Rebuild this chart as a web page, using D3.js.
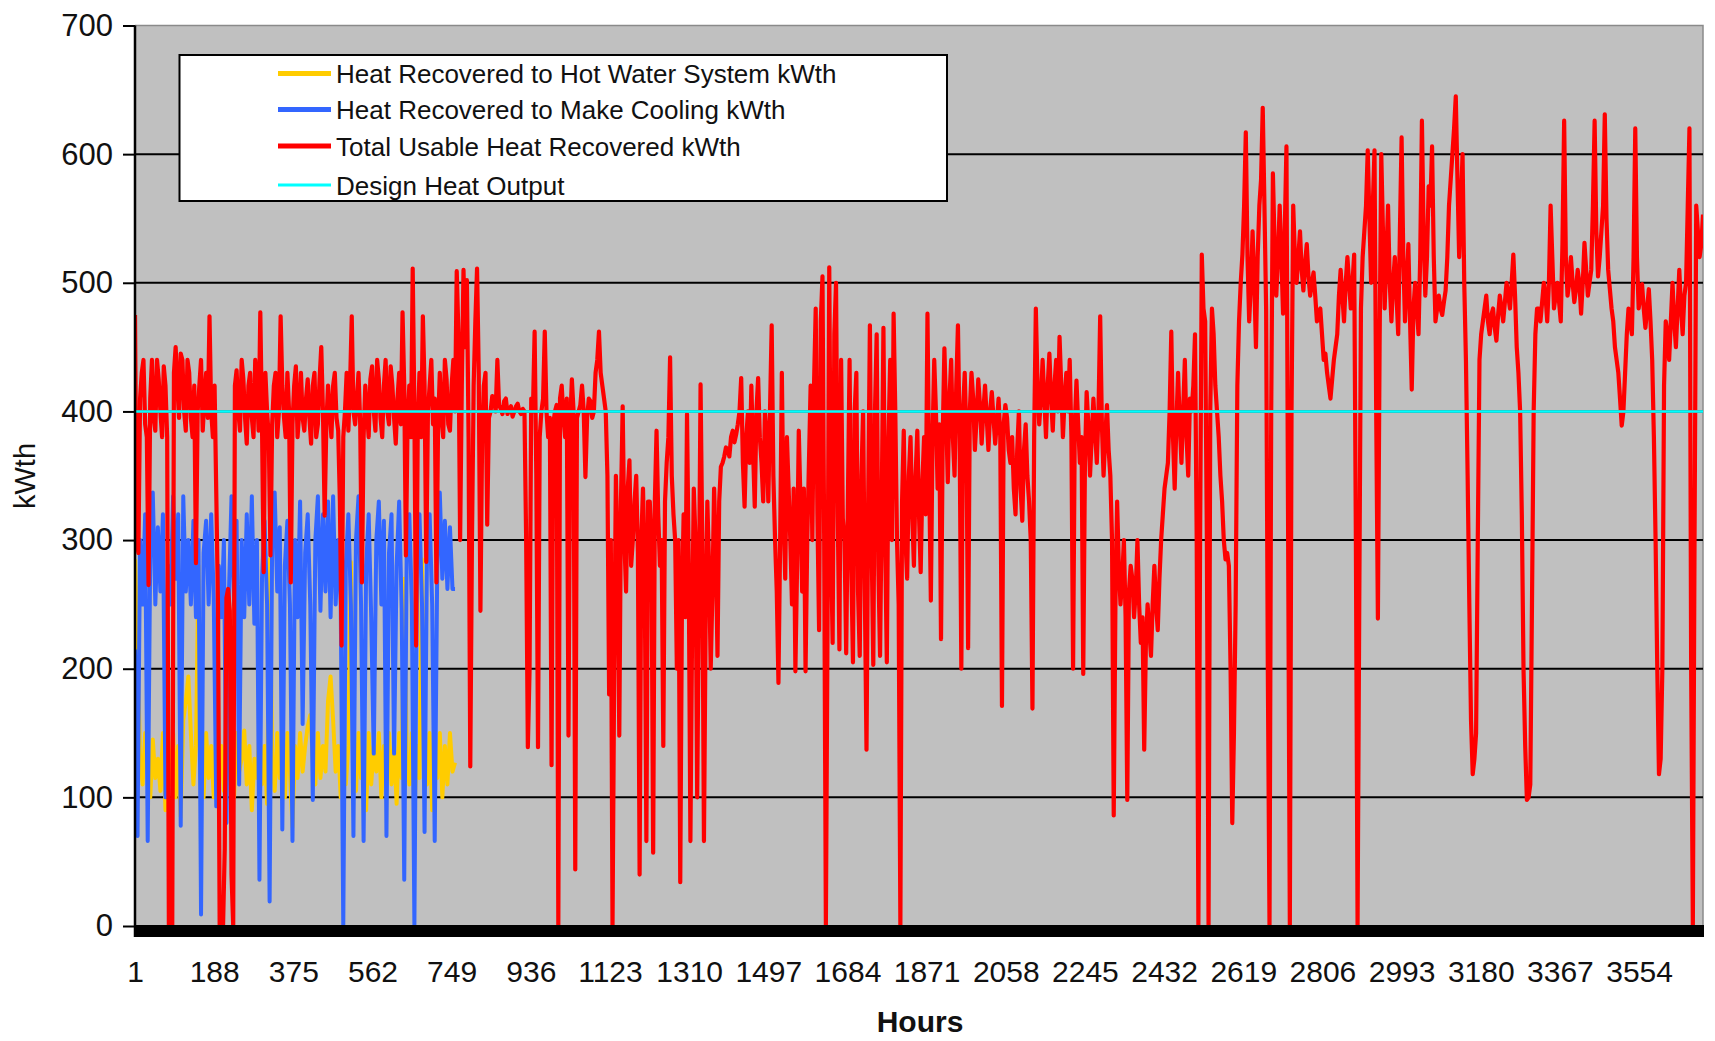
<!DOCTYPE html>
<html><head><meta charset="utf-8">
<script src="https://cdn.jsdelivr.net/npm/d3@7"></script>
<style>
body{margin:0;background:#fff;}
svg{display:block;font-family:"Liberation Sans",Arial,Helvetica,sans-serif;}
</style>
</head><body>
<svg id="chart" width="1715" height="1041"></svg>
<script>
// ---------- DATA ----------
const seriesNames = [
  "Heat Recovered to Hot Water System kWth",
  "Heat Recovered to Make Cooling kWth",
  "Total Usable Heat Recovered kWth",
  "Design Heat Output"
];
const seriesColors = ["#FFCC00", "#3366FF", "#FF0000", "#00FFFF"];

// Total usable heat recovered: readings at hours 1, 9, 17, ... (every 8 h)
const totalStartHour = 1, totalStepHours = 8;
const totalHeat = [
  475,290,430,390,265,440,385,425,380,420,
  0,0,450,395,440,385,430,380,282,420,
  385,430,474,380,336,0,0,255,245,0,
  432,385,425,375,430,380,420,477,275,400,
  288,420,380,474,395,430,267,420,380,430,
  385,425,375,430,390,450,319,420,380,430,
  385,218,400,385,474,390,430,267,420,380,
  435,385,425,380,440,390,420,375,430,477,
  288,420,511,218,430,474,283,420,390,267,
  430,380,425,385,440,509,300,510,502,124,
  420,511,245,420,312,400,410,440,402,408,
  398,404,400,406,398,400,139,410,462,139,
  400,462,380,125,400,0,420,380,148,425,
  44,400,420,349,410,395,430,462,420,400,
  180,0,350,148,404,260,362,300,350,40,
  340,66,330,57,385,280,140,360,442,320,
  200,34,320,398,66,340,100,421,66,330,
  200,340,210,357,365,370,380,376,390,426,
  326,400,420,326,426,360,400,330,467,300,
  189,430,270,340,250,198,385,260,198,360,
  300,480,230,505,0,512,220,500,215,317,
  212,440,205,430,210,400,137,467,203,460,
  210,465,205,440,476,300,0,385,270,380,
  280,385,275,380,476,253,440,340,223,449,
  345,440,350,467,200,430,216,430,370,425,
  375,420,370,415,375,410,171,405,370,380,
  320,400,315,390,330,169,480,390,440,380,
  445,385,440,458,380,430,440,200,424,360,
  196,415,350,410,360,474,350,405,350,86,
  330,250,300,98,280,240,300,220,137,250,
  210,280,230,300,340,360,462,340,430,360,
  440,350,400,460,0,522,470,0,480,420,
  380,330,285,280,80,250,470,522,617,470,
  540,450,560,636,480,0,585,490,560,476,
  606,0,560,500,540,494,530,490,508,470,
  480,440,430,410,440,460,510,470,520,480,
  522,0,480,540,603,500,603,239,600,480,
  560,470,520,460,613,470,530,417,500,460,
  626,490,575,606,470,490,475,494,560,600,
  645,520,600,440,250,118,150,440,470,490,
  460,480,455,490,470,500,480,522,450,400,
  200,98,110,400,480,470,500,470,560,480,
  500,470,626,490,520,485,510,476,531,490,
  510,626,505,540,631,510,480,450,430,389,
  430,480,460,620,480,499,465,495,440,300,
  118,200,470,440,500,450,510,460,500,620,
  0,560,520,553
];
// Total usable heat recovered: readings at hours 5, 13, 21, ... (every 8 h)
const totalMidStartHour = 5;
const totalHeatMid = [
  300,410,440,380,410,395,440,400,435,380,
  0,430,420,445,400,440,395,420,400,440,
  410,395,400,420,250,0,60,262,40,420,
  400,440,395,420,395,440,385,390,430,380,
  390,430,400,420,380,400,390,435,400,395,
  410,395,420,380,425,400,390,400,420,395,
  330,380,430,420,400,410,390,380,400,425,
  400,440,395,420,400,435,395,410,390,420,
  395,380,400,390,380,420,400,440,410,390,
  395,440,390,420,400,460,420,450,380,300,
  470,430,380,430,395,412,400,405,398,410,
  402,396,404,400,402,300,198,400,350,380,
  410,400,395,390,405,410,395,410,390,400,
  395,405,400,395,408,400,440,430,410,350,
  300,200,290,330,300,340,280,330,290,300,
  280,330,300,330,320,300,330,380,350,300,
  300,250,240,280,230,300,250,300,240,280,
  260,290,330,360,372,365,385,382,400,360,
  380,360,370,400,380,330,380,400,350,260,
  300,320,380,300,340,280,330,340,300,420,
  420,320,470,300,240,300,460,320,440,300,
  330,280,400,260,350,260,330,300,400,280,
  330,300,380,300,400,250,330,300,350,320,
  350,320,345,320,350,380,400,390,380,400,
  410,380,420,380,400,380,400,410,395,405,
  400,395,400,395,392,380,390,395,360,340,
  370,340,370,350,300,380,420,410,410,420,
  410,420,400,420,410,400,380,390,390,380,
  360,390,380,385,400,390,380,370,300,250,
  280,270,240,260,270,260,250,240,220,230,
  250,250,270,320,350,400,380,390,390,400,
  380,410,420,300,300,480,300,400,460,400,
  350,300,290,200,150,420,500,560,520,500,
  500,520,580,560,200,400,530,520,520,540,
  300,400,520,520,510,515,505,500,490,475,
  460,445,420,425,450,490,490,500,500,500,
  300,250,520,560,550,560,400,450,540,520,
  500,500,490,540,520,500,470,480,480,520,
  540,520,560,520,480,480,485,520,580,620,
  580,560,500,350,160,130,300,460,480,470,
  475,465,475,480,485,490,500,490,430,320,
  140,100,250,460,480,485,490,500,520,490,
  485,530,520,500,500,495,500,500,510,500,
  560,540,520,560,550,495,470,440,410,400,
  460,470,520,520,490,480,480,470,380,200,
  130,420,460,470,470,480,480,490,560,200,
  300,540,530
];

// Cooling and hot water series: readings at hours 1, 7, 13, ... (every 6 h)
const partStartHour = 1, partStepHours = 6;
const coolingHeat = [
  215,70,300,250,320,66,290,337,250,310,
  260,320,100,280,250,334,270,320,78,334,
  260,300,250,315,240,300,9,290,315,250,
  320,255,93,280,240,300,80,260,334,250,
  315,110,300,240,320,250,334,235,300,36,
  270,315,250,19,300,337,260,310,75,280,
  315,250,66,300,240,330,157,290,320,250,
  98,300,334,245,320,260,330,240,334,250,
  300,250,0,280,320,250,70,300,334,250,
  66,280,320,240,134,300,330,250,315,70,
  290,320,134,280,330,245,36,300,320,250,
  0,290,320,250,73,300,320,250,66,280,
  337,270,315,262,310,262,262
];
const hotWaterHeat = [
  285,218,130,110,150,120,100,145,115,130,
  105,150,90,140,110,150,100,140,85,160,
  175,194,150,110,140,280,130,100,150,115,
  140,100,150,120,140,105,150,115,140,100,
  150,120,130,152,110,140,90,130,115,150,
  110,140,95,285,130,105,150,115,140,100,
  150,120,77,140,115,150,120,140,155,164,
  130,110,150,115,140,120,175,194,160,120,
  140,100,150,110,140,283,130,105,150,115,
  140,90,150,110,140,120,150,100,140,115,
  150,110,140,95,150,115,270,130,110,150,
  90,140,115,285,130,110,150,90,140,115,
  150,100,140,110,150,120,127
];

const designHeatOutput = 400;
const xTickLabels = [1,188,375,562,749,936,1123,1310,1497,1684,1871,2058,2245,2432,2619,2806,2993,3180,3367,3554];
const yTickValues = [0,100,200,300,400,500,600,700];
const xTitle = "Hours";
const yTitle = "kWth";

// ---------- CHART ----------
const svg = d3.select("#chart");
const L = 135, R = 1703, T = 25.5, B = 926;
const lastHour = totalStartHour + totalStepHours * (totalHeat.length - 1);
const x = d3.scaleLinear().domain([1, lastHour]).range([L, R]);
const y = d3.scaleLinear().domain([0, 700]).range([B, T]);

// merge the two total-heat reading sets in hour order
const totalPoints = [];
totalHeat.forEach((v, i) => {
  totalPoints.push([totalStartHour + totalStepHours * i, v]);
  if (i < totalHeatMid.length) totalPoints.push([totalMidStartHour + totalStepHours * i, totalHeatMid[i]]);
});
const partPoints = arr => arr.map((v, i) => [partStartHour + partStepHours * i, v]);

// plot background
svg.append("rect").attr("x", L).attr("y", T).attr("width", R - L).attr("height", B - T)
  .attr("fill", "#C0C0C0");
svg.append("path").attr("d", `M${L},${T}H${R}V${B}`).attr("fill", "none")
  .attr("stroke", "#8a8a8a").attr("stroke-width", 1.5);

// gridlines
svg.append("g").selectAll("line").data(yTickValues.filter(v => v > 0 && v < 700)).join("line")
  .attr("x1", L).attr("x2", R).attr("y1", d => y(d)).attr("y2", d => y(d))
  .attr("stroke", "#000").attr("stroke-width", 2);

const line = d3.line().x(d => x(d[0])).y(d => y(d[1]));

svg.append("clipPath").attr("id", "pc").append("rect")
  .attr("x", L).attr("y", T - 5).attr("width", R - L).attr("height", B - T + 5);
const plot = svg.append("g").attr("clip-path", "url(#pc)");

plot.append("path").datum(partPoints(hotWaterHeat)).attr("d", line)
  .attr("fill", "none").attr("stroke", seriesColors[0]).attr("stroke-width", 4)
  .attr("stroke-linejoin", "round");
plot.append("path").datum(partPoints(coolingHeat)).attr("d", line)
  .attr("fill", "none").attr("stroke", seriesColors[1]).attr("stroke-width", 4)
  .attr("stroke-linejoin", "round");
plot.append("path").datum(totalPoints).attr("d", line)
  .attr("fill", "none").attr("stroke", seriesColors[2]).attr("stroke-width", 4.2)
  .attr("stroke-linejoin", "round");
plot.append("line").attr("x1", L).attr("x2", R)
  .attr("y1", y(designHeatOutput)).attr("y2", y(designHeatOutput))
  .attr("stroke", seriesColors[3]).attr("stroke-width", 2.5);

// thick bottom axis band
svg.append("rect").attr("x", L).attr("y", y(0) - 1).attr("width", R - L + 1).attr("height", 12)
  .attr("fill", "#000");

// y axis
const yAxis = svg.append("g").attr("transform", `translate(${L},0)`)
  .call(d3.axisLeft(y).tickValues(yTickValues).tickSize(12).tickSizeOuter(0).tickPadding(10).tickFormat(d3.format("d")));
yAxis.select(".domain").attr("stroke", "#000").attr("stroke-width", 2.5)
  .attr("d", `M0,${T}V${B + 11}`);
yAxis.selectAll(".tick line").attr("stroke", "#000").attr("stroke-width", 2);
yAxis.selectAll("text").attr("font-size", 31).attr("fill", "#111")
  .attr("font-family", "'Liberation Sans', Arial, sans-serif");

// x axis
const xAxis = svg.append("g").attr("transform", `translate(0,${B + 11})`)
  .call(d3.axisBottom(x).tickValues(xTickLabels).tickSize(0).tickPadding(24).tickFormat(d3.format("d")));
xAxis.select(".domain").remove();
xAxis.selectAll("text").attr("font-size", 30).attr("fill", "#111")
  .attr("font-family", "'Liberation Sans', Arial, sans-serif");

// axis titles
svg.append("text").attr("x", 920).attr("y", 1032).attr("text-anchor", "middle")
  .attr("font-size", 30).attr("font-weight", "bold").attr("fill", "#111").text(xTitle);
svg.append("text").attr("transform", "translate(35,476) rotate(-90)").attr("text-anchor", "middle")
  .attr("font-size", 29).attr("fill", "#111").text(yTitle);

// legend
const lg = svg.append("g");
lg.append("rect").attr("x", 179.5).attr("y", 55).attr("width", 767.5).attr("height", 146)
  .attr("fill", "#fff").attr("stroke", "#000").attr("stroke-width", 2);
const rowsY = [73.5, 109.5, 146, 185];
seriesNames.forEach((name, i) => {
  lg.append("line").attr("x1", 278).attr("x2", 331).attr("y1", rowsY[i]).attr("y2", rowsY[i])
    .attr("stroke", seriesColors[i]).attr("stroke-width", i === 3 ? 3 : 5);
  lg.append("text").attr("x", 336).attr("y", rowsY[i] + 9.5).attr("font-size", 26)
    .attr("fill", "#111").text(name);
});
</script>
</body></html>
